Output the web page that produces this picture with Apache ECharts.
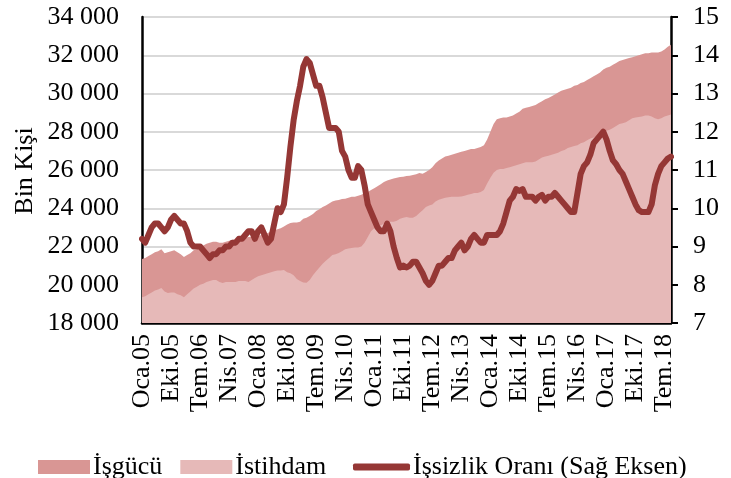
<!DOCTYPE html>
<html>
<head>
<meta charset="utf-8">
<script src="https://cdn.jsdelivr.net/npm/echarts@6/dist/echarts.min.js"></script>
<style>
html,body{margin:0;padding:0;background:#fff;}
#chart{width:731px;height:478px;}
</style>
</head>
<body>
<div id="chart"></div>
<script>
// Month abbreviations (Turkish) and years for the category axis
var monthNames = ['Oca','Şub','Mar','Nis','May','Haz','Tem','Ağu','Eyl','Eki','Kas','Ara'];
var startYear = 2005;
var monthCount = 165; // Oca.05 – Eyl.18

// İşgücü (labor force, thousand persons)
var isgucu = [
 21350,21400,21500,21600,21700,21750,21850,21650,21700,21750,21800,21700,
 21600,21450,21550,21650,21800,21850,21950,22050,22150,22200,22250,22250,
 22200,22200,22250,22300,22350,22350,22400,22450,22450,22500,22500,22550,
 22550,22600,22650,22700,22800,22850,22900,22950,23050,23150,23230,23250,
 23250,23300,23450,23500,23600,23700,23850,23950,24070,24150,24250,24350,
 24400,24430,24480,24500,24550,24600,24600,24650,24700,24800,24850,24950,
 25050,25150,25250,25370,25450,25500,25550,25600,25630,25650,25680,25700,
 25740,25780,25840,25800,25900,26000,26150,26350,26500,26600,26700,26750,
 26800,26850,26900,26950,27000,27050,27100,27100,27150,27200,27300,27600,
 28000,28400,28650,28700,28750,28750,28800,28850,28950,29050,29200,29250,
 29300,29350,29400,29500,29600,29700,29760,29850,29950,30050,30150,30200,
 30250,30300,30400,30450,30550,30600,30700,30800,30900,31000,31100,31250,
 31350,31400,31500,31600,31700,31750,31800,31850,31900,31950,32000,32050,
 32100,32100,32150,32150,32150,32200,32300,32450,32550
];

// İstihdam (employment, thousand persons)
var istihdam = [
 19350,19400,19500,19600,19700,19750,19830,19650,19570,19600,19600,19500,
 19450,19350,19500,19650,19800,19900,20000,20050,20150,20200,20250,20250,
 20150,20090,20150,20150,20150,20150,20200,20200,20200,20150,20250,20350,
 20450,20500,20550,20600,20650,20700,20750,20750,20770,20650,20600,20500,
 20300,20200,20120,20100,20250,20500,20700,20900,21100,21250,21400,21550,
 21600,21660,21750,21850,21900,21920,21950,21950,22000,22200,22500,22800,
 22950,23000,23100,23200,23250,23300,23300,23350,23450,23500,23540,23500,
 23500,23600,23750,23900,24070,24150,24200,24350,24450,24500,24550,24580,
 24600,24600,24600,24620,24650,24700,24750,24800,24800,24850,24960,25300,
 25600,25850,26000,26050,26050,26100,26150,26200,26250,26300,26350,26400,
 26400,26400,26450,26550,26650,26700,26750,26800,26850,26900,27000,27050,
 27150,27200,27250,27300,27400,27450,27550,27650,27700,27800,27900,28000,
 28050,28100,28200,28300,28400,28450,28500,28600,28700,28750,28770,28800,
 28850,28850,28800,28700,28650,28700,28800,28850,28900
];

// İşsizlik Oranı (unemployment rate, %, right axis)
var issizlik = [
 9.2,9.1,9.3,9.5,9.6,9.6,9.5,9.4,9.5,9.7,9.8,9.7,
 9.6,9.6,9.4,9.1,9.0,9.0,9.0,8.9,8.8,8.7,8.8,8.8,
 8.9,8.9,9.0,9.0,9.1,9.1,9.2,9.2,9.3,9.4,9.4,9.2,
 9.4,9.5,9.3,9.1,9.2,9.6,10.0,9.9,10.1,10.8,11.6,12.3,
 12.8,13.2,13.7,13.9,13.8,13.5,13.2,13.2,12.9,12.5,12.1,12.1,
 12.1,12.0,11.5,11.35,11.0,10.8,10.8,11.1,11.0,10.6,10.1,9.9,
 9.7,9.5,9.4,9.4,9.6,9.4,9.0,8.7,8.45,8.5,8.45,8.5,
 8.6,8.6,8.45,8.3,8.1,8.0,8.1,8.3,8.5,8.5,8.6,8.7,
 8.7,8.9,9.0,9.1,8.9,9.0,9.2,9.3,9.2,9.1,9.1,9.3,
 9.3,9.3,9.3,9.4,9.6,9.9,10.2,10.3,10.5,10.45,10.5,10.3,
 10.3,10.3,10.2,10.3,10.35,10.2,10.3,10.3,10.4,10.3,10.2,10.1,
 10.0,9.9,9.9,10.4,10.9,11.1,11.2,11.4,11.7,11.8,11.9,12.0,
 11.8,11.5,11.25,11.15,11.0,10.9,10.7,10.5,10.3,10.1,9.95,9.9,
 9.9,9.9,10.1,10.6,10.9,11.1,11.2,11.3,11.35
];

// Axis settings
var leftTicks = {min: 18000, max: 34000, interval: 2000};
var rightTicks = {min: 7, max: 15, interval: 1};

var categories = [];
for (var i = 0; i < monthCount; i++) {
  var y = startYear + Math.floor(i / 12);
  categories.push(monthNames[i % 12] + '.' + String(y).slice(2));
}

var FONT = "'Liberation Serif','Times New Roman',serif";
function fmtThousands(v){ return String(v).replace(/\B(?=(\d{3})+(?!\d))/g, ' '); }

var chart = echarts.init(document.getElementById('chart'), null, {renderer:'canvas'});
chart.setOption({
  animation: false,
  backgroundColor: '#ffffff',
  textStyle: {fontFamily: FONT},
  grid: {left: 142, right: 60, top: 17, bottom: 155, containLabel: false},
  graphic: [{
    type: 'text',
    x: 25, y: 171,
    rotation: Math.PI / 2,
    style: {text: 'Bin Kişi', font: "26px " + FONT, fill: '#000', textAlign: 'center', textVerticalAlign: 'middle'}
  }],
  legend: [{
    data: ['İşgücü', 'İstihdam'],
    left: 33, top: 449,
    icon: 'rect',
    itemWidth: 52, itemHeight: 14, itemGap: 18,
    textStyle: {fontFamily: FONT, fontSize: 26, color: '#000', padding: [0,0,0,-2]}
  }, {
    data: ['İşsizlik Oranı (Sağ Eksen)'],
    left: 348, top: 449,
    icon: 'roundRect',
    itemWidth: 57, itemHeight: 7,
    textStyle: {fontFamily: FONT, fontSize: 26, color: '#000', padding: [0,0,0,-2]}
  }],
  xAxis: {
    type: 'category',
    data: categories,
    boundaryGap: false,
    axisLine: {show: true, lineStyle: {color: '#000', width: 2.5}},
    axisTick: {show: false},
    axisLabel: {
      interval: 8, rotate: 90, margin: 11,
      fontFamily: FONT, fontSize: 26, color: '#000'
    },
    splitLine: {show: false}
  },
  yAxis: [{
    type: 'value',
    min: leftTicks.min, max: leftTicks.max, interval: leftTicks.interval,
    axisLine: {show: true, lineStyle: {color: '#000', width: 2.5}},
    axisTick: {show: false},
    axisLabel: {margin: 23, fontFamily: FONT, fontSize: 26, color: '#000', formatter: fmtThousands},
    splitLine: {show: true, lineStyle: {color: '#D9D9D9', width: 2}}
  }, {
    type: 'value',
    position: 'right',
    min: rightTicks.min, max: rightTicks.max, interval: rightTicks.interval,
    axisLine: {show: true, lineStyle: {color: '#000', width: 2.5}},
    axisTick: {show: true, inside: false, length: 7, lineStyle: {color: '#000', width: 2}},
    axisLabel: {margin: 22, fontFamily: FONT, fontSize: 26, color: '#000'},
    splitLine: {show: false}
  }],
  series: [{
    name: 'İşgücü',
    type: 'line',
    data: isgucu,
    symbol: 'none',
    color: '#D99694',
    lineStyle: {width: 0},
    areaStyle: {color: '#D99694', opacity: 1, origin: 'start'},
    z: 1
  }, {
    name: 'İstihdam',
    type: 'line',
    data: istihdam,
    symbol: 'none',
    color: '#E6B9B8',
    lineStyle: {width: 0},
    areaStyle: {color: '#E6B9B8', opacity: 1, origin: 'start'},
    z: 2
  }, {
    name: 'İşsizlik Oranı (Sağ Eksen)',
    type: 'line',
    yAxisIndex: 1,
    data: issizlik,
    symbol: 'none',
    color: '#953735',
    lineStyle: {width: 6, color: '#953735', cap: 'round', join: 'round'},
    z: 5
  }]
});
</script>
</body>
</html>
